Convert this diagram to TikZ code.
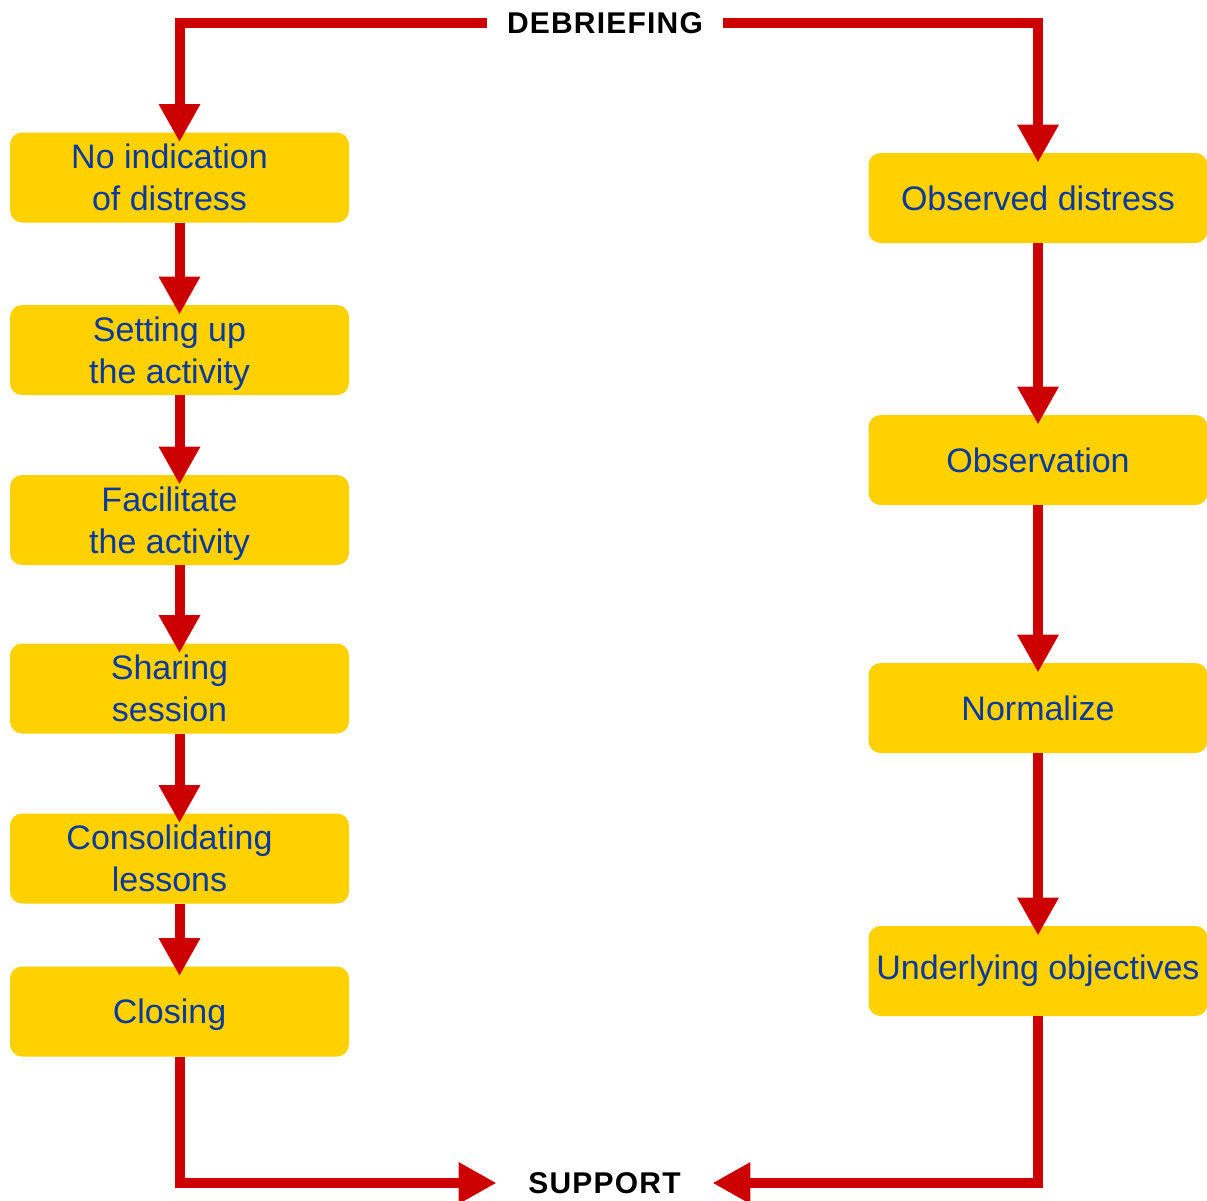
\documentclass[tikz,border=0pt]{standalone}
\usepackage{fontspec}
\setmainfont{Liberation Sans}
\usetikzlibrary{arrows.meta, positioning}
\definecolor{boxyellow}{HTML}{FFD100}
\definecolor{txtblue}{HTML}{0A3A9C}
\definecolor{flred}{HTML}{CC0000}
% left-column text sits a little left of the box centre
\newcommand\lsh[1]{\raisebox{0pt}[\height][\dimexpr\depth-4pt\relax]{%
  \begin{tabular}{@{}c@{\hspace{10pt}}}#1\end{tabular}}}

\begin{document}
\begin{tikzpicture}[
    x=0.5pt, y=-0.5pt,
    stepbox/.style={
      fill=boxyellow, rounded corners=6pt, align=center, text=txtblue,
      minimum width=169.5pt, minimum height=45pt, inner sep=2pt,
      font=\fontsize{17}{21}\selectfont
    },
    hd/.style={font=\fontsize{15}{18}\selectfont\bfseries\addfontfeatures{LetterSpace=4},
      inner xsep=0pt},
    fl/.style={-{Triangle[length=19pt, width=19.5pt]}, draw=flred, line width=5pt,
      shorten >=-5pt},
    fll/.style={-{Triangle[length=19pt, width=19.5pt]}, draw=flred, line width=5pt}
  ]
    \useasboundingbox (0,0) rectangle (1207,1201);

    % --- labels ---
    \node[hd, minimum width=118pt]   (debrief) at (605,23)   {DEBRIEFING};
    \node[hd, minimum width=107.5pt] (support) at (604.5,1183) {SUPPORT};

    % --- left column ---
    \node[stepbox] (nodist)  at (179.5, 177.5)  {\lsh{No indication\\of distress}};
    \node[stepbox] (setup)   at (179.5, 350)    {\lsh{Setting up\\the activity}};
    \node[stepbox] (facil)   at (179.5, 520)    {\lsh{Facilitate\\the activity}};
    \node[stepbox] (share)   at (179.5, 688.5)  {\lsh{Sharing\\session}};
    \node[stepbox] (consol)  at (179.5, 858.5)  {\lsh{Consolidating\\lessons}};
    \node[stepbox] (closing) at (179.5, 1011.5) {\lsh{Closing}};

    % --- right column ---
    \node[stepbox] (obsdist) at (1038, 198) {Observed distress};
    \node[stepbox] (observ)  at (1038, 460) {Observation};
    \node[stepbox] (norm)    at (1038, 708) {Normalize};
    \node[stepbox] (underly) at (1038, 971) {Underlying objectives};

    % --- arrows ---
    \draw[fl] (debrief.west) -| (nodist.north);
    \draw[fl] (nodist) -- (setup);
    \draw[fl] (setup)  -- (facil);
    \draw[fl] (facil)  -- (share);
    \draw[fl] (share)  -- (consol);
    \draw[fl] (consol) -- (closing);
    \draw[fll] (closing.south) |- (support.west);

    \draw[fl] (debrief.east) -| (obsdist.north);
    \draw[fl] (obsdist) -- (observ);
    \draw[fl] (observ)  -- (norm);
    \draw[fl] (norm)    -- (underly);
    \draw[fll] (underly.south) |- (support.east);
  \end{tikzpicture}
\end{document}
